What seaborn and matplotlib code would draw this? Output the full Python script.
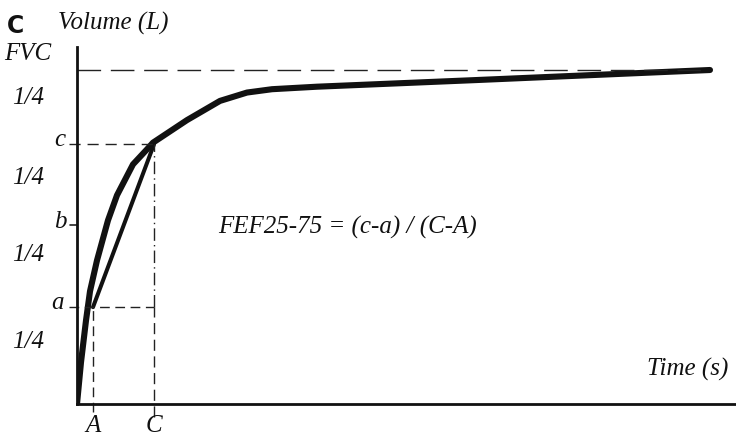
import seaborn as sns
import matplotlib.pyplot as plt
import numpy as np
import pandas as pd

# Flow-volume curve (time units, volume units)
curve_t = [0.0, 0.04, 0.09, 0.13, 0.20, 0.31, 0.40, 0.56, 0.70, 0.76, 1.10, 1.43, 1.70, 1.95, 2.40, 4.00, 6.33]
curve_v = [0.0, 0.50, 1.00, 1.35, 1.72, 2.20, 2.50, 2.87, 3.05, 3.13, 3.40, 3.63, 3.73, 3.77, 3.80, 3.88, 4.00]

# Marker levels and times
level_a, level_b, level_c, level_fvc = 1.16, 2.14, 3.11, 4.0
time_A, time_C = 0.16, 0.77

quarter_labels = ['1/4', '1/4', '1/4', '1/4']
quarter_y = [98, 178, 255, 342]   # pixel rows of the "1/4" labels

W, H = 736, 441
sns.set_style("white")
plt.rcParams['font.family'] = ['Liberation Serif', 'DejaVu Serif']

fig = plt.figure(figsize=(W / 100, H / 100), dpi=100)
ax = fig.add_axes([77 / W, 37 / H, (W - 77) / W, (404 - 47) / H])
ax.set_xlim(0, 6.59)
ax.set_ylim(0, 357 / 83.5)

df = pd.DataFrame({'t': curve_t, 'v': curve_v})
sns.lineplot(data=df, x='t', y='v', ax=ax, color='#111111', lw=4.4,
             solid_capstyle='round', solid_joinstyle='round', sort=False)

# chord between (A, a) and (C, c)
ax.plot([time_A, time_C], [level_a, level_c], color='#111111', lw=2.9,
        solid_capstyle='round')

# guide lines
dash = dict(color='#222222', lw=1.0, clip_on=False)
ax.plot([0, 6.3], [level_fvc, level_fvc], ls=(0, (17, 7)), **dash)
ax.plot([-0.08, time_C], [level_c, level_c], ls=(0, (8, 5)), **dash)
ax.plot([-0.08, time_C], [level_a, level_a], ls=(0, (7, 4)), **dash)
ax.plot([-0.07, 0], [level_b, level_b], color='#222222', lw=1.2, clip_on=False)
ax.plot([time_A, time_A], [-0.10, level_a], ls=(0, (7, 4)), **dash)
ax.plot([time_C, time_C], [-0.15, level_a], ls=(0, (8, 4)), **dash)
ax.plot([time_C, time_C], [level_a, level_c], ls=(0, (9, 3, 1, 3)), **dash)

for s in ['top', 'right']:
    ax.spines[s].set_visible(False)
for s in ['left', 'bottom']:
    ax.spines[s].set_linewidth(2.0)
    ax.spines[s].set_color('#111111')
ax.set_xticks([])
ax.set_yticks([])
ax.set_xlabel('')
ax.set_ylabel('')


def px(x, y, s, **kw):
    fig.text(x / W, 1 - y / H, s, **kw)


it = dict(style='italic', fontsize=18, color='#111111')
px(7, 26, 'C', family='DejaVu Sans', weight='bold', fontsize=17, va='center', color='#111111')
px(58, 23, 'Volume (L)', va='center', **it)
px(4, 54, 'FVC', va='center', **it)
for lab, yy in zip(quarter_labels, quarter_y):
    px(12, yy, lab, va='center', **it)
px(60, 140, 'c', va='center', ha='center', **it)
px(60, 222, 'b', va='center', ha='center', **it)
px(58, 303, 'a', va='center', ha='center', **it)
px(93, 426, 'A', va='center', ha='center', **it)
px(154, 426, 'C', va='center', ha='center', **it)
px(218, 227, 'FEF25-75 = (c-a) / (C-A)', va='center', style='italic', fontsize=18, color='#111111')
px(728, 369, 'Time (s)', va='center', ha='right', **it)

plt.savefig('out.png', dpi=100)
